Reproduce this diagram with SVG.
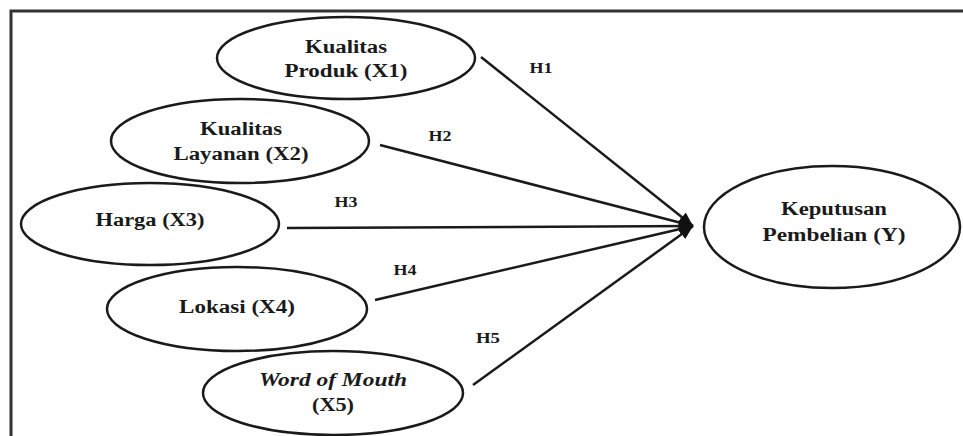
<svg xmlns="http://www.w3.org/2000/svg" width="963" height="436" viewBox="0 0 963 436">
<style>
.node ellipse{fill:#fff;stroke:#1a1a1a;stroke-width:2.5}
.t{font-family:"Liberation Serif","Times New Roman",serif;font-weight:bold;font-size:18px;fill:#1a1a1a;text-anchor:middle}
.it{font-style:italic}
.h{font-family:"Liberation Serif","Times New Roman",serif;font-weight:bold;font-size:14px;fill:#1a1a1a;text-anchor:middle}
.edge{stroke:#1a1a1a;stroke-width:2.5;fill:none;marker-end:url(#arr)}
.frame{stroke:#333;stroke-width:3;fill:none}
</style>
<defs>
<marker id="arr" markerUnits="userSpaceOnUse" markerWidth="16" markerHeight="12" refX="14" refY="6" orient="auto">
<path d="M0,0 L14,6 L0,12 z" fill="#111"/>
</marker>
</defs>
<rect width="963" height="436" fill="#fff"/>
<path class="frame" d="M11,440 L11,11 L970,11"/>
<g id="connectors">
<line class="edge" x1="481" y1="57" x2="693" y2="226"/>
<line class="edge" x1="380" y1="145" x2="693" y2="226"/>
<line class="edge" x1="287" y1="228" x2="693" y2="226"/>
<line class="edge" x1="375" y1="300" x2="693" y2="226"/>
<line class="edge" x1="473" y1="385" x2="693" y2="226"/>
<text class="h" x="541" y="73" textLength="23" lengthAdjust="spacingAndGlyphs">H1</text>
<text class="h" x="440" y="141" textLength="23" lengthAdjust="spacingAndGlyphs">H2</text>
<text class="h" x="346" y="207" textLength="23" lengthAdjust="spacingAndGlyphs">H3</text>
<text class="h" x="405" y="275" textLength="23" lengthAdjust="spacingAndGlyphs">H4</text>
<text class="h" x="488" y="343" textLength="24" lengthAdjust="spacingAndGlyphs">H5</text>
</g>
<g id="x1" class="node">
<ellipse cx="346" cy="58" rx="129" ry="41"/>
<text class="t" x="346" y="53" textLength="82" lengthAdjust="spacingAndGlyphs">Kualitas</text>
<text class="t" x="346" y="77" textLength="123" lengthAdjust="spacingAndGlyphs">Produk (X1)</text>
</g>
<g id="x2" class="node">
<ellipse cx="240" cy="141" rx="129" ry="42"/>
<text class="t" x="241" y="135" textLength="82" lengthAdjust="spacingAndGlyphs">Kualitas</text>
<text class="t" x="241" y="160" textLength="135" lengthAdjust="spacingAndGlyphs">Layanan (X2)</text>
</g>
<g id="x3" class="node">
<ellipse cx="150" cy="224" rx="129" ry="41"/>
<text class="t" x="150" y="226" textLength="109" lengthAdjust="spacingAndGlyphs">Harga (X3)</text>
</g>
<g id="x4" class="node">
<ellipse cx="237" cy="309" rx="130" ry="42"/>
<text class="t" x="237" y="313" textLength="116" lengthAdjust="spacingAndGlyphs">Lokasi (X4)</text>
</g>
<g id="x5" class="node">
<ellipse cx="333" cy="393" rx="130" ry="42"/>
<text class="t it" x="333" y="386" textLength="148" lengthAdjust="spacingAndGlyphs">Word of Mouth</text>
<text class="t" x="333" y="411" textLength="42" lengthAdjust="spacingAndGlyphs">(X5)</text>
</g>
<g id="y" class="node">
<ellipse cx="832" cy="227" rx="128" ry="61"/>
<text class="t" x="834" y="215" textLength="106" lengthAdjust="spacingAndGlyphs">Keputusan</text>
<text class="t" x="834" y="241" textLength="143" lengthAdjust="spacingAndGlyphs">Pembelian (Y)</text>
</g>
</svg>
